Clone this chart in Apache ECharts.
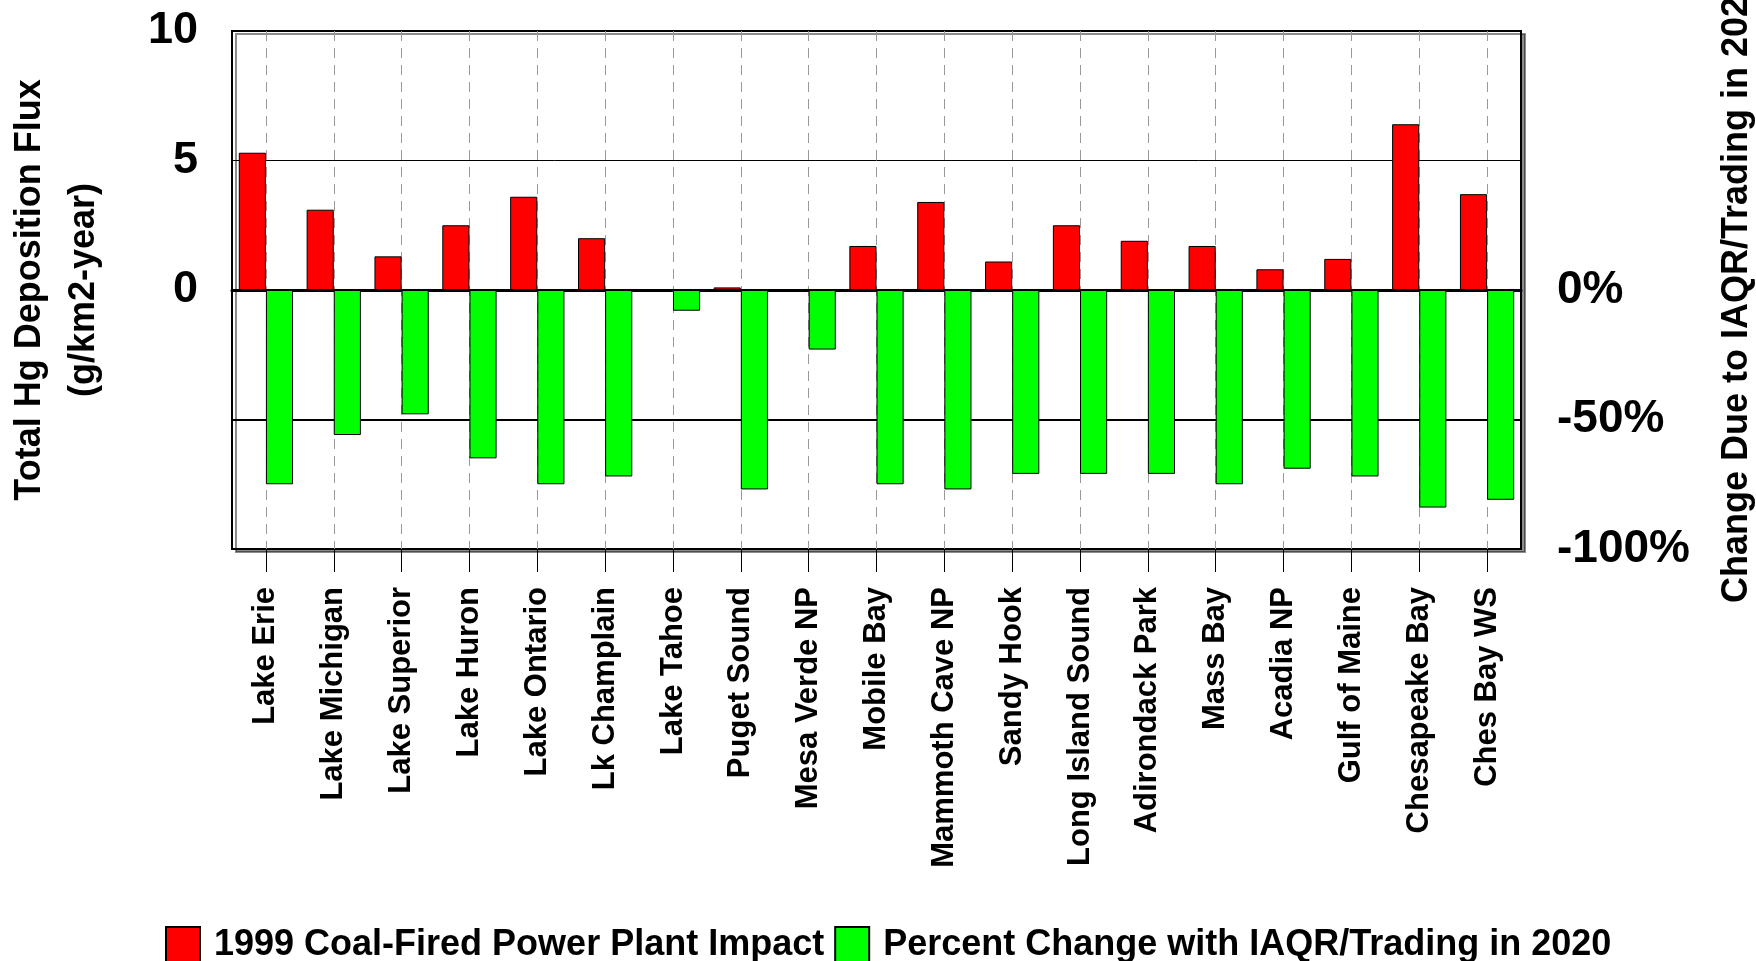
<!DOCTYPE html>
<html>
<head>
<meta charset="utf-8">
<title>Total Hg Deposition Flux</title>
<script src="https://cdn.jsdelivr.net/npm/echarts@6/dist/echarts.min.js"></script>
<style>
  html, body { margin: 0; padding: 0; background: #fff; }
  #chart { width: 1756px; height: 961px; }
</style>
</head>
<body>
<div id="chart"></div>
<script>
// Receptor sites along the category axis
const sites = [
  'Lake Erie', 'Lake Michigan', 'Lake Superior', 'Lake Huron', 'Lake Ontario',
  'Lk Champlain', 'Lake Tahoe', 'Puget Sound', 'Mesa Verde NP', 'Mobile Bay',
  'Mammoth Cave NP', 'Sandy Hook', 'Long Island Sound', 'Adirondack Park',
  'Mass Bay', 'Acadia NP', 'Gulf of Maine', 'Chesapeake Bay', 'Ches Bay WS'
];

// 1999 coal-fired power plant contribution, g/km2-year (left axis)
const plantImpact = [5.3, 3.1, 1.3, 2.5, 3.6, 2.0, 0, 0.1, 0, 1.7, 3.4, 1.1, 2.5, 1.9, 1.7, 0.8, 1.2, 6.4, 3.7];

// Percent change with IAQR/Trading in 2020 (right axis)
const pctChange = [-75, -56, -48, -65, -75, -72, -8, -77, -23, -75, -77, -71, -71, -71, -75, -69, -72, -84, -81];

// Tick labels that are printed on each value axis
const fluxTicks = [0, 5, 10];
const pctTicks = [0, -50, -100];

const seriesNames = ['1999 Coal-Fired Power Plant Impact', 'Percent Change with IAQR/Trading in 2020'];

const FONT = '"Liberation Sans", Arial, Helvetica, sans-serif';
const NONE = 'rgba(0,0,0,0)';

const chart = echarts.init(document.getElementById('chart'), null, { renderer: 'canvas' });

chart.setOption({
  backgroundColor: '#fff',
  animation: false,
  textStyle: { fontFamily: FONT, color: '#000', fontWeight: 'bold' },
  grid: {
    left: 232, right: 235, top: 31, bottom: 412,
    outerBoundsMode: 'none',
    containLabel: false,
    show: true,
    backgroundColor: '#fff',
    borderColor: '#000',
    borderWidth: 2,
    shadowColor: 'rgba(0,0,0,0.45)',
    shadowOffsetX: 4,
    shadowOffsetY: 3,
    shadowBlur: 0
  },
  legend: {
    left: 160,
    top: 921,
    itemWidth: 34,
    itemHeight: 36,
    itemGap: 10,
    icon: 'rect',
    textStyle: {
      fontFamily: FONT, fontWeight: 'bold', fontSize: 36, color: '#000',
      padding: [0, 0, 0, 9]
    },
    data: seriesNames
  },
  xAxis: [
    {
      type: 'category',
      data: sites,
      position: 'bottom',
      boundaryGap: true,
      axisLine: { show: false, onZero: false },
      axisTick: { show: true, alignWithLabel: true, length: 23, lineStyle: { color: '#000', width: 1 } },
      axisLabel: {
        interval: 0, rotate: 90, margin: 38,
        fontFamily: FONT, fontWeight: 'bold', fontSize: 31, color: '#000'
      },
      splitLine: {
        show: true, alignWithLabel: true,
        lineStyle: { color: '#999', width: 1, type: [10, 7] }
      }
    },
    {
      // heavy baseline through zero
      type: 'category',
      data: sites,
      position: 'top',
      axisLine: { show: true, onZero: true, onZeroAxisIndex: 0, lineStyle: { color: '#000', width: 3 } },
      axisTick: { show: false },
      axisLabel: { show: false },
      splitLine: { show: false }
    }
  ],
  yAxis: [
    {
      type: 'value',
      position: 'left',
      min: -10, max: 10, interval: 5,
      axisLine: { show: false },
      axisTick: { show: false },
      axisLabel: {
        margin: 34,
        fontFamily: FONT, fontWeight: 'bold', fontSize: 45, color: '#000',
        formatter: v => (fluxTicks.indexOf(v) >= 0 ? String(v) : '')
      },
      splitLine: {
        show: true,
        lineStyle: { color: [NONE, NONE, NONE, '#000', NONE], width: 1 }
      },
      name: 'Total Hg Deposition Flux\n(g/km2-year)',
      nameLocation: 'middle',
      nameRotate: 90,
      nameGap: 121,
      nameTextStyle: { fontFamily: FONT, fontWeight: 'bold', fontSize: 36, lineHeight: 54, color: '#000' }
    },
    {
      type: 'value',
      position: 'right',
      min: -100, max: 100, interval: 50,
      axisLine: { show: false },
      axisTick: { show: false },
      axisLabel: {
        margin: 36,
        fontFamily: FONT, fontWeight: 'bold', fontSize: 46, color: '#000',
        formatter: v => (pctTicks.indexOf(v) >= 0 ? v + '%' : '')
      },
      splitLine: {
        show: true,
        lineStyle: { color: [NONE, '#000', NONE, NONE, NONE], width: 2 }
      },
      name: 'Change Due to IAQR/Trading in 2020',
      nameLocation: 'middle',
      nameRotate: 90,
      nameGap: 198,
      nameTextStyle: { fontFamily: FONT, fontWeight: 'bold', fontSize: 36, color: '#000' }
    }
  ],
  series: [
    {
      name: seriesNames[0],
      type: 'bar',
      xAxisIndex: 0,
      yAxisIndex: 0,
      data: plantImpact,
      barGap: '0%',
      barCategoryGap: '20%',
      itemStyle: { color: '#ff0000', borderColor: '#000', borderWidth: 1 }
    },
    {
      name: seriesNames[1],
      type: 'bar',
      xAxisIndex: 0,
      yAxisIndex: 1,
      data: pctChange,
      barGap: '0%',
      barCategoryGap: '20%',
      itemStyle: { color: '#00ff00', borderColor: '#000', borderWidth: 1 }
    }
  ]
});
</script>
</body>
</html>
